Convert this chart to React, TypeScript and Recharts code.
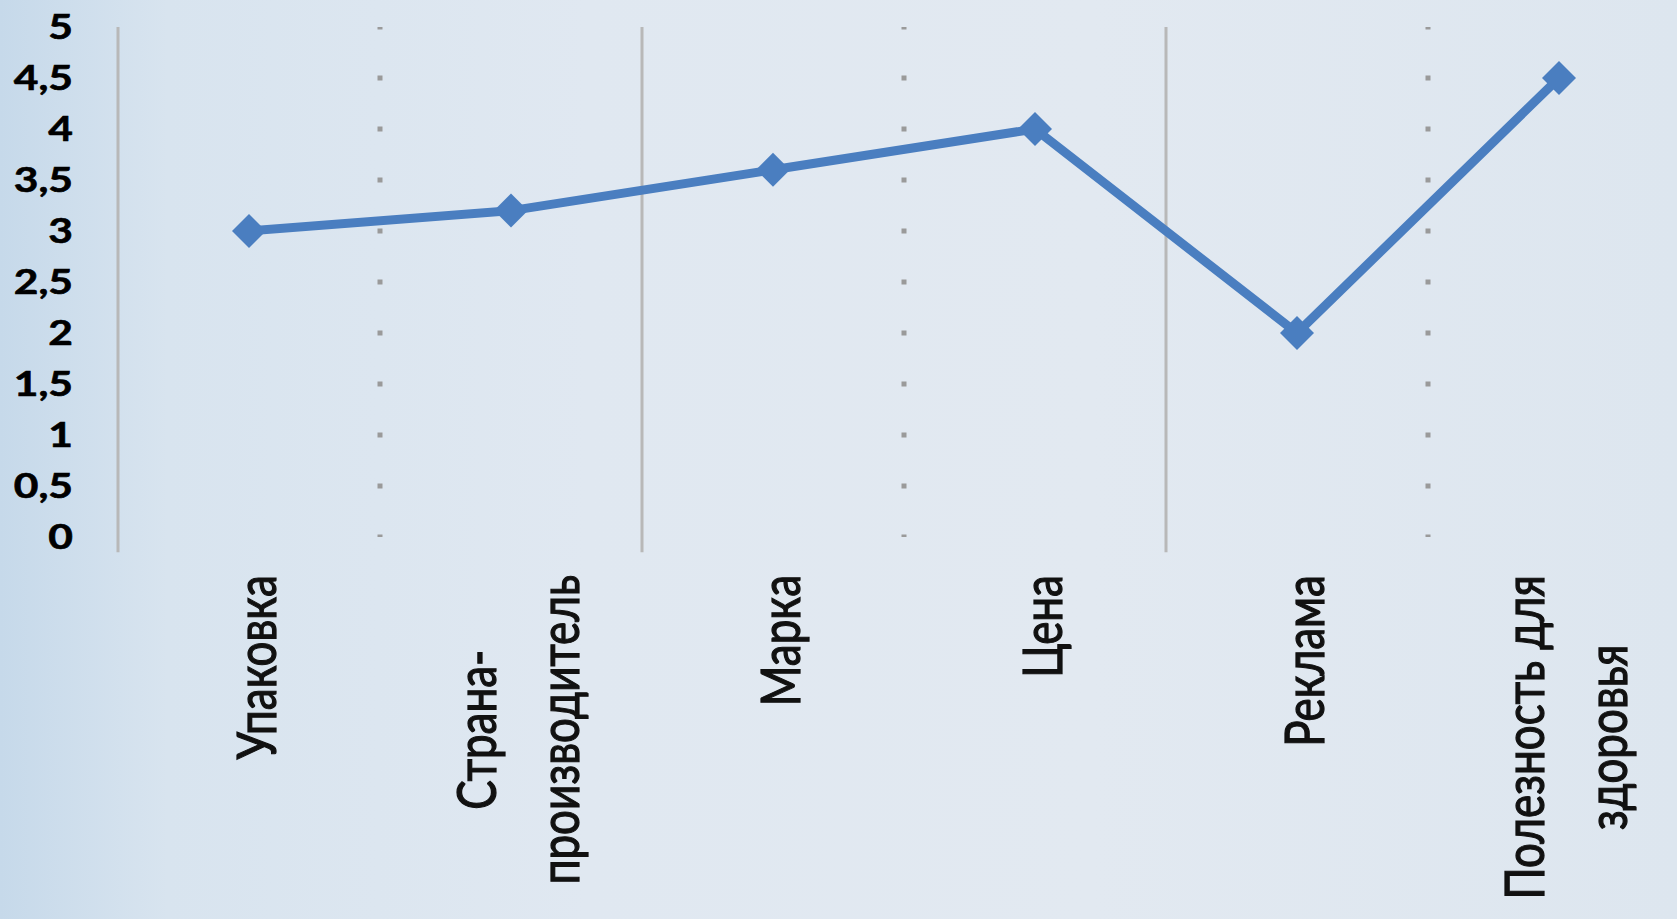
import React from 'react';
import { LineChart, Line, XAxis, YAxis, ReferenceLine } from 'recharts';

const categories = ['Упаковка', 'Страна-\nпроизводитель', 'Марка', 'Цена', 'Реклама', 'Полезность для\nздоровья'];
const scores = [3, 3.2, 3.6, 4, 2, 4.5];
const yTicks = [0, 0.5, 1, 1.5, 2, 2.5, 3, 3.5, 4, 4.5, 5];
const bandEdges = [0, 1, 2, 3, 4, 5, 6];

// each category sits in the middle of its band
const data = categories.map((name, i) => ({ name, slot: i + 0.5, value: scores[i] }));
const slotTicks = data.map((d) => d.slot);

const LINE_BLUE = '#4a7ec0';
const LABEL_FONT = 'Lato, "Open Sans", sans-serif';
const LABEL_SIZE = 44;
const STRETCH = 1.25;

let ctx: CanvasRenderingContext2D | null = null;
const measure = (text: string) => {
  if (!ctx) ctx = document.createElement('canvas').getContext('2d');
  if (!ctx) return text.length * LABEL_SIZE * 0.5;
  ctx.font = `${LABEL_SIZE}px ${LABEL_FONT}`;
  return ctx.measureText(text).width;
};

const CategoryTick = ({ x, y, payload }: any) => {
  const label = categories[Math.floor(payload.value)] ?? '';
  const lines = label.split('\n');
  const maxW = Math.max(...lines.map(measure));
  const n = lines.length;
  return (
    <g>
      {lines.map((line, i) => {
        const dx = 6 + (i - (n - 1) / 2) * 83;
        return (
          <text
            key={i}
            transform={`translate(${x + dx},${y + maxW / 2}) scale(${STRETCH},1) rotate(-90)`}
            textAnchor="middle"
            dominantBaseline="central"
            fontFamily={LABEL_FONT}
            fontSize={LABEL_SIZE}
            fill="#111"
            stroke="#111"
            strokeWidth={1}
          >
            {line}
          </text>
        );
      })}
    </g>
  );
};

const ValueTick = ({ x, y, payload }: any) => (
  <text
    transform={`translate(${x},${y}) scale(${STRETCH},1)`}
    textAnchor="end"
    dy="0.36em"
    fontFamily={LABEL_FONT}
    fontSize={34}
    fontWeight={700}
    fill="#000"
    stroke="#000"
    strokeWidth={0.6}
  >
    {String(payload.value).replace('.', ',')}
  </text>
);

const Diamond = ({ cx, cy }: any) => {
  const r = 17;
  return <path d={`M${cx},${cy - r}L${cx + r},${cy}L${cx},${cy + r}L${cx - r},${cy}Z`} fill={LINE_BLUE} />;
};

export default function App() {
  return (
    <div
      style={{
        position: 'absolute',
        left: 0,
        top: 0,
        width: 1677,
        height: 919,
        overflow: 'hidden',
        background:
          'linear-gradient(90deg, #c6d9ea 0%, #d8e4ef 10%, #e0e8f1 35%, #e2e9f1 65%, #dde6ef 100%)',
      }}
    >
      <LineChart width={1700} height={919} data={data} margin={{ top: 27, right: 10, bottom: 0, left: 0 }}>
        <XAxis
          dataKey="slot"
          type="number"
          domain={[0, 6]}
          allowDataOverflow
          ticks={slotTicks}
          axisLine={false}
          tickLine={false}
          tickSize={0}
          tickMargin={38}
          height={382}
          interval={0}
          tick={<CategoryTick />}
        />
        <YAxis
          domain={[0, 5]}
          ticks={yTicks}
          width={118}
          axisLine={false}
          tickLine={false}
          tickSize={0}
          tickMargin={45}
          tick={<ValueTick />}
        />
        {bandEdges.map((b) =>
          b % 2 === 0 ? (
            <ReferenceLine
              key={b}
              segment={[{ x: b, y: -0.15 }, { x: b, y: 5 }]}
              ifOverflow="visible"
              stroke="#b8b8b8"
              strokeWidth={3}
            />
          ) : (
            <ReferenceLine
              key={b}
              x={b}
              stroke="#9a9a9a"
              strokeWidth={5}
              strokeDasharray="5 46"
              strokeDashoffset={2.5}
            />
          )
        )}
        <Line
          dataKey="value"
          stroke={LINE_BLUE}
          strokeWidth={9}
          strokeLinejoin="round"
          dot={<Diamond />}
          activeDot={false}
          isAnimationActive={false}
        />
      </LineChart>
    </div>
  );
}
